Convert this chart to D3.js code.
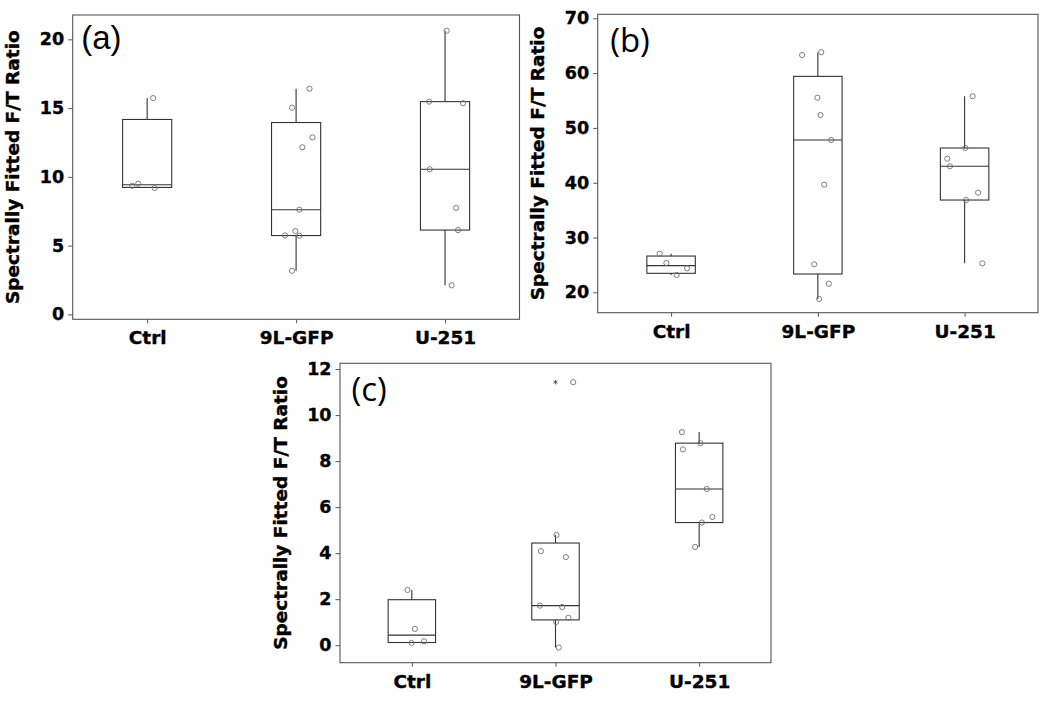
<!DOCTYPE html>
<html>
<head>
<meta charset="utf-8">
<script src="https://cdn.jsdelivr.net/npm/d3@7"></script>
<style>
  html, body { margin: 0; padding: 0; background: #fff; }
  svg { display: block; }
</style>
</head>
<body>
<svg id="chart" width="1050" height="703"></svg>
<script>
// ---------------- DATA ----------------
const categories = ["Ctrl", "9L-GFP", "U-251"];
const panelLabels = ["(a)", "(b)", "(c)"];
const yTitle = "Spectrally Fitted F/T Ratio";

const ticksA = [0, 5, 10, 15, 20];
const ticksB = [20, 30, 40, 50, 60, 70];
const ticksC = [0, 2, 4, 6, 8, 10, 12];

const yDomainA = [-0.36, 21.77];
const yDomainB = [16.28, 70.73];
const yDomainC = [-0.76, 12.25];

// Panel (a) values
const aCtrl = [9.35, 9.5, 15.73, 9.19];
const a9L   = [16.41, 15.03, 12.87, 12.15, 7.61, 6.06, 5.74, 5.72, 3.17];
const aU251 = [20.63, 15.47, 15.35, 10.55, 7.75, 6.13, 2.11];
// Panel (b) values
const bCtrl = [27.04, 25.35, 23.16, 24.38];
const b9L   = [63.3, 63.8, 55.51, 52.35, 47.79, 39.64, 25.11, 21.57, 18.78];
const bU251 = [55.77, 46.33, 44.38, 42.99, 38.18, 36.84, 25.29];
// Panel (c) values
const cCtrl = [2.40, 0.71, 0.10, 0.17];
const c9L   = [11.43, 4.79, 4.09, 3.83, 1.72, 1.66, 1.19, 1.01, -0.10];
const cU251 = [9.26, 8.51, 8.78, 6.79, 5.57, 5.33, 4.27];

// horizontal jitter of individual points (fraction of category step)
const aCtrlJ = [-0.10, -0.06, 0.04, 0.05];
const a9LJ   = [0.09, -0.027, 0.11, 0.042, 0.022, -0.005, -0.074, 0.022, -0.027];
const aU251J = [0.011, -0.107, 0.121, -0.103, 0.074, 0.087, 0.044];
const bCtrlJ = [-0.078, -0.032, 0.038, 0.109];
const b9LJ   = [-0.107, 0.023, -0.003, 0.018, 0.091, 0.043, -0.025, 0.075, 0.009];
const bU251J = [0.055, 0.005, -0.118, -0.10, 0.092, 0.01, 0.121];
const cCtrlJ = [-0.03, 0.021, -0.002, 0.085];
const c9LJ   = [0.123, 0.007, -0.102, 0.072, -0.109, 0.047, 0.09, 0.005, 0.023];
const cU251J = [-0.12, -0.113, 0.009, 0.053, 0.092, 0.019, -0.028];

// ---------------- LAYOUT ----------------
const panels = [
  { label: panelLabels[0], left: 72.7, top: 15, right: 519.5, bottom: 319.3,
    yDomain: yDomainA, ticks: ticksA,
    groups: [[aCtrl, aCtrlJ], [a9L, a9LJ], [aU251, aU251J]],
    labelFont: "Liberation Sans, Arial, sans-serif", labelDx: 8.5, labelDy: 33.7 },
  { label: panelLabels[1], left: 597.7, top: 14.3, right: 1038, bottom: 312.7,
    yDomain: yDomainB, ticks: ticksB,
    groups: [[bCtrl, bCtrlJ], [b9L, b9LJ], [bU251, bU251J]],
    labelFont: "Open Sans, sans-serif", labelDx: 12.5, labelDy: 37.2 },
  { label: panelLabels[2], left: 340, top: 363.3, right: 771, bottom: 662.7,
    yDomain: yDomainC, ticks: ticksC,
    groups: [[cCtrl, cCtrlJ], [c9L, c9LJ], [cU251, cU251J]],
    labelFont: "Open Sans, sans-serif", labelDx: 11.5, labelDy: 37.5 }
];

// Minitab-style quantile (position p*(n+1))
function mq(sorted, p) {
  const n = sorted.length;
  const pos = p * (n + 1);
  if (pos <= 1) return sorted[0];
  if (pos >= n) return sorted[n - 1];
  const lo = Math.floor(pos), f = pos - lo;
  return sorted[lo - 1] + f * (sorted[lo] - sorted[lo - 1]);
}
function stats(vals) {
  const s = vals.slice().sort((x, y) => x - y);
  const q1 = mq(s, 0.25), med = mq(s, 0.5), q3 = mq(s, 0.75);
  const iqr = q3 - q1;
  const lf = q1 - 1.5 * iqr, uf = q3 + 1.5 * iqr;
  const inside = s.filter(v => v >= lf && v <= uf);
  return { q1, med, q3, wlo: d3.min(inside), whi: d3.max(inside),
           outliers: s.filter(v => v < lf || v > uf) };
}

const svg = d3.select("#chart");
const FRAME = "#555";
const INK = "#333";
const TICKFONT = "DejaVu Sans, Verdana, sans-serif";

function heavy(sel) {
  sel.attr("font-family", TICKFONT).attr("font-weight", "bold")
     .attr("fill", "#000").attr("stroke", "#000").attr("stroke-width", 0.35);
}

panels.forEach(P => {
  const g = svg.append("g");
  const x = d3.scalePoint().domain(categories).range([P.left, P.right]).padding(0.5);
  const y = d3.scaleLinear().domain(P.yDomain).range([P.bottom, P.top]);
  const step = x.step();
  const bw = step * 0.33;

  // y axis
  const yAxis = g.append("g").attr("transform", `translate(${P.left},0)`)
    .call(d3.axisLeft(y).tickValues(P.ticks).tickSize(4.5).tickPadding(4).tickFormat(d3.format("d")));
  yAxis.select(".domain").remove();
  yAxis.selectAll("line").attr("stroke", FRAME);
  yAxis.selectAll("text").call(heavy).attr("font-size", 17.5);

  // x axis
  const xAxis = g.append("g").attr("transform", `translate(0,${P.bottom})`)
    .call(d3.axisBottom(x).tickSize(4).tickPadding(8));
  xAxis.select(".domain").remove();
  xAxis.selectAll("line").attr("stroke", FRAME);
  xAxis.selectAll("text").call(heavy).attr("font-size", 18.5).attr("dy", "0.71em");

  // frame
  g.append("rect").attr("x", P.left).attr("y", P.top)
    .attr("width", P.right - P.left).attr("height", P.bottom - P.top)
    .attr("fill", "none").attr("stroke", FRAME).attr("stroke-width", 1.1);

  // y title
  g.append("text")
    .attr("transform", `translate(${P.left - 60},${(P.top + P.bottom) / 2}) rotate(-90)`)
    .attr("text-anchor", "middle").attr("dy", "0.36em")
    .call(heavy).attr("font-size", 18.5)
    .text(yTitle);

  // panel label
  g.append("text").attr("x", P.left + P.labelDx).attr("y", P.top + P.labelDy)
    .attr("font-family", P.labelFont).attr("font-size", 33).attr("fill", "#000")
    .text(P.label);

  // boxes
  P.groups.forEach(([vals, jit], i) => {
    const cx = x(categories[i]);
    const st = stats(vals);
    const bg = g.append("g");
    // whiskers
    bg.append("line").attr("x1", cx).attr("x2", cx)
      .attr("y1", y(st.q3)).attr("y2", y(st.whi)).attr("stroke", INK).attr("stroke-width", 1.1);
    bg.append("line").attr("x1", cx).attr("x2", cx)
      .attr("y1", y(st.q1)).attr("y2", y(st.wlo)).attr("stroke", INK).attr("stroke-width", 1.1);
    // box
    bg.append("rect").attr("x", cx - bw / 2).attr("y", y(st.q3))
      .attr("width", bw).attr("height", y(st.q1) - y(st.q3))
      .attr("fill", "none").attr("stroke", INK).attr("stroke-width", 1.1);
    // median
    bg.append("line").attr("x1", cx - bw / 2).attr("x2", cx + bw / 2)
      .attr("y1", y(st.med)).attr("y2", y(st.med)).attr("stroke", INK).attr("stroke-width", 1.1);
    // outliers (asterisk)
    bg.selectAll("path.out").data(st.outliers).enter().append("path")
      .attr("class", "out")
      .attr("transform", d => `translate(${cx},${y(d)})`)
      .attr("d", d3.symbol(d3.symbolAsterisk, 14)())
      .attr("fill", "none").attr("stroke", "#555").attr("stroke-width", 0.9);
    // individual points
    bg.selectAll("circle").data(vals.map((v, k) => [v, jit[k]])).enter().append("circle")
      .attr("cx", d => cx + d[1] * step).attr("cy", d => y(d[0]))
      .attr("r", 2.6).attr("fill", "none")
      .attr("stroke", "#707070").attr("stroke-width", 0.9);
  });
});
</script>
</body>
</html>
